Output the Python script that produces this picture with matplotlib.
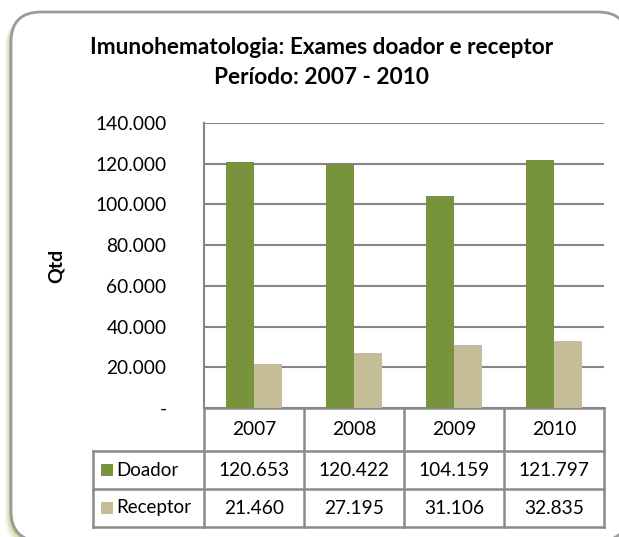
import matplotlib
matplotlib.use("Agg")
import matplotlib.pyplot as plt
from matplotlib.patches import FancyBboxPatch, Rectangle
from matplotlib.ticker import FuncFormatter

years = ["2007", "2008", "2009", "2010"]
series = ["Doador", "Receptor"]
doador = [120653, 120422, 104159, 121797]
receptor = [21460, 27195, 31106, 32835]
colors = ["#77933C", "#C4BD97"]

W, H = 619, 537
plt.rcParams["font.family"] = ["Lato", "DejaVu Sans"]

fig = plt.figure(figsize=(W / 100, H / 100), dpi=100)

# overlay in pixel coords for frame + table
bg = fig.add_axes([0, 0, 1, 1])
bg.set_xlim(0, W)
bg.set_ylim(H, 0)
bg.axis("off")

# green shadow then rounded frame
bx, by, bwid, bht = 11, 12, 617, 529
for i, a in enumerate([0.12, 0.22, 0.35]):
    off = 6 - 2 * i
    bg.add_patch(FancyBboxPatch((bx - off, by + off), bwid, bht,
                                boxstyle="round,pad=0,rounding_size=30",
                                fc="#8DB33F", ec="none", alpha=a, zorder=0))
bg.add_patch(FancyBboxPatch((bx, by), bwid, bht,
                            boxstyle="round,pad=0,rounding_size=30",
                            fc="white", ec="#9A9A9A", lw=2, zorder=1))

fig.text(322 / W, 1 - 47 / H, "Imunohematologia: Exames doador e receptor",
         ha="center", va="center", fontsize=16.3, fontweight="bold")
fig.text(322 / W, 1 - 77 / H, "Período: 2007 - 2010",
         ha="center", va="center", fontsize=16.3, fontweight="bold")

# plot area
left, right, top, bottom = 204, 604, 123, 408
ax = fig.add_axes([left / W, 1 - bottom / H, (right - left) / W, (bottom - top) / H])
ax.set_zorder(2)
ax.patch.set_alpha(0)
x = range(len(years))
bw = 0.28
ax.bar([i - bw / 2 for i in x], doador, bw, color=colors[0], zorder=3)
ax.bar([i + bw / 2 for i in x], receptor, bw, color=colors[1], zorder=3)
ax.set_xlim(-0.5, 3.5)
ax.set_ylim(0, 140000)
ax.set_yticks(range(0, 140001, 20000))
ax.yaxis.set_major_formatter(FuncFormatter(
    lambda v, p: "-" if v == 0 else f"{int(v):,}".replace(",", ".")))
ax.grid(axis="y", color="#868686", lw=1.5, zorder=1)
ax.set_xticks([])
ax.tick_params(axis="y", length=0, pad=27, labelsize=13.8)
for s in ["top", "right", "bottom"]:
    ax.spines[s].set_visible(False)
ax.spines["left"].set_color("#868686")
ax.spines["left"].set_linewidth(1.5)
ax.set_ylabel("Qtd", fontsize=14, fontweight="bold", labelpad=22)

# data table under the axis
col_w = (right - left) / len(years)
rows = [408, 451, 489, 527]
lc, lw = "#8A8A8A", 1.8
tab_left = 93
bg.plot([left, right], [rows[0], rows[0]], color=lc, lw=lw, zorder=3)
for y in rows[1:]:
    bg.plot([tab_left, right], [y, y], color=lc, lw=lw, zorder=3)
bg.plot([tab_left, tab_left], [rows[1], rows[3]], color=lc, lw=lw, zorder=3)
for i in range(len(years) + 1):
    bg.plot([left + i * col_w] * 2, [rows[0], rows[3]], color=lc, lw=lw, zorder=3)

fs = 13.8
for i, yr in enumerate(years):
    cx = left + (i + 0.5) * col_w
    bg.text(cx, (rows[0] + rows[1]) / 2, yr, ha="center", va="center", fontsize=fs, zorder=4)
    bg.text(cx, (rows[1] + rows[2]) / 2, f"{doador[i]:,}".replace(",", "."),
            ha="center", va="center", fontsize=fs, zorder=4)
    bg.text(cx, (rows[2] + rows[3]) / 2, f"{receptor[i]:,}".replace(",", "."),
            ha="center", va="center", fontsize=fs, zorder=4)

for j, name in enumerate(series):
    cy = (rows[j + 1] + rows[j + 2]) / 2
    bg.add_patch(Rectangle((101, cy - 6), 12, 12, fc=colors[j], ec="none", zorder=4))
    bg.text(116, cy, name, ha="left", va="center", fontsize=13.5, zorder=4)

fig.savefig("out.png", dpi=100)
